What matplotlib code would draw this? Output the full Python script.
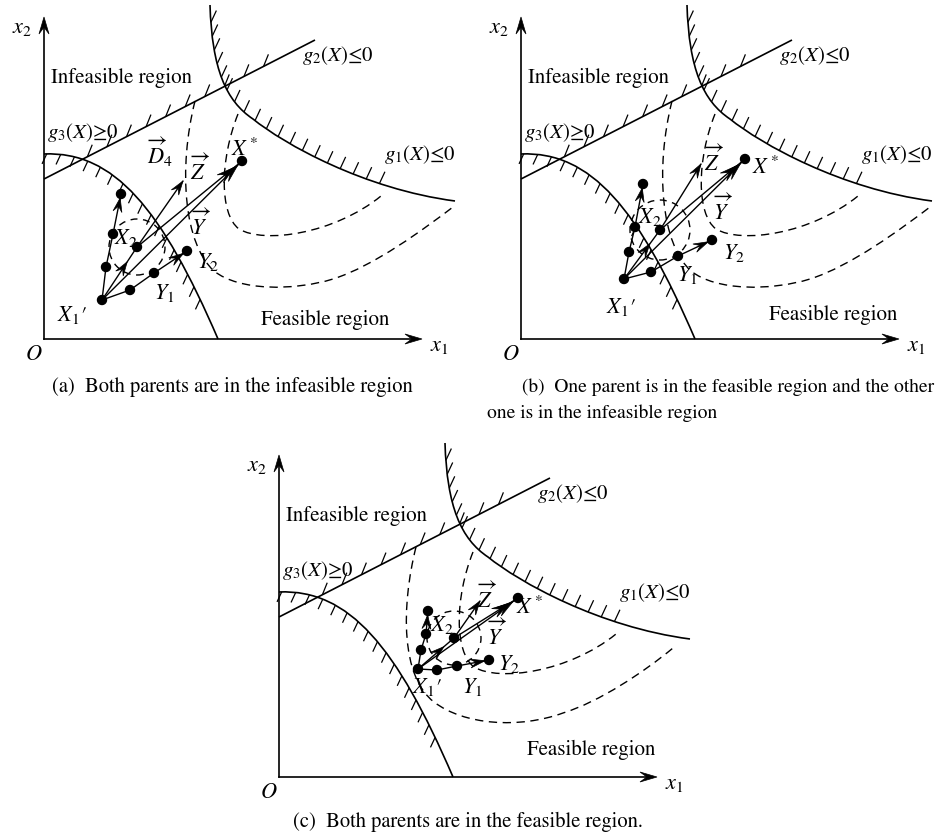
import numpy as np
import matplotlib.pyplot as plt
from matplotlib.path import Path
from matplotlib.patches import PathPatch, Polygon, Circle
from matplotlib.collections import LineCollection

plt.rcParams['font.family'] = ['STIXGeneral', 'DejaVu Serif']
plt.rcParams['mathtext.fontset'] = 'stix'

W, H = 938, 837
panels = ['a', 'b', 'c']

# pixel position of the origin O of each panel
origin = {'a': (44, 340), 'b': (521, 340), 'c': (279, 778)}
axis_len = (378, 322)

# constraint boundaries, panel units (1 unit = 1 px, O at 0,0), bezier control points
g2_line = [(0, 160), (271, 299)]
g3_curve = [(0, 185), (70, 188), (118, 130), (174, 0)]
g1_curve = [(166, 334), (168, 270), (182, 238), (209, 220),
            (240, 195), (320, 150), (411, 138)]
outer_level = [(151, 238), (134, 170), (140, 95), (170, 68),
               (195, 48), (250, 48), (289, 60),
               (330, 73), (380, 110), (409, 132)]
outer_level_c = [(137, 230), (122, 170), (122, 100), (155, 75),
                 (185, 52), (240, 48), (284, 64),
                 (320, 75), (365, 105), (394, 129)]
inner_level = [(194, 225), (176, 180), (175, 125), (195, 110),
               (220, 95), (290, 105), (337, 143)]

# individuals in each panel
x1p = {'a': (58, 39), 'b': (103, 60), 'c': (139, 108)}
x2 = {'a': (93, 92), 'b': (139, 109), 'c': (175, 139)}
x_star = {'a': (198, 178), 'b': (224, 180), 'c': (239, 179)}
left_chain = {'a': [(62, 72), (69, 105), (77, 145)],
              'b': [(108, 87), (114, 112), (122, 155)],
              'c': [(142, 127), (147, 143), (149, 166)]}
bottom_chain = {'a': [(86, 49), (110, 66), (143, 88)],
                'b': [(130, 67), (157, 83), (191, 99)],
                'c': [(158, 107), (178, 111), (210, 117)]}
z_tip = {'a': (139, 158), 'b': (180, 175), 'c': (201, 176)}
ring = {'a': 28, 'b': 30, 'c': 27}

captions = {
    'a': ["(a)  Both parents are in the infeasible region"],
    'b': ["(b)  One parent is in the feasible region and the other",
          "one is in the infeasible region"],
    'c': ["(c)  Both parents are in the feasible region."],
}

# label placement (panel units)
labels = {
    'a': {'xs': (201, 190), 'z': (156, 170), 'y': (157, 115), 'y2': (164, 78),
          'y1': (120, 47), 'x2': (82, 102), 'x1': (28, 25), 'feas': (217, 20),
          'd4': (116, 188)},
    'b': {'xs': (245, 172), 'z': (193, 179), 'y': (202, 130), 'y2': (213, 87),
          'y1': (166, 65), 'x2': (129, 123), 'x1': (100, 33), 'feas': (248, 25)},
    'c': {'xs': (251, 170), 'z': (208, 180), 'y': (218, 143), 'y2': (230, 114),
          'y1': (193, 91), 'x2': (163, 153), 'x1': (148, 91), 'feas': (248, 28)},
}


def curve_path(pts):
    codes = [Path.MOVETO] + [Path.CURVE4] * (len(pts) - 1)
    return Path(pts, codes)


def sample(path):
    t = np.linspace(0, 1, 80)
    return np.vstack([bz(t) for bz, _ in path.iter_bezier()])


def hatch(ax, path, step, length, angle, lo, hi):
    pts = sample(path)
    d = np.r_[0, np.cumsum(np.hypot(*np.diff(pts, axis=0).T))]
    marks = np.arange(lo * d[-1], hi * d[-1], step)
    xs = np.interp(marks, d, pts[:, 0])
    ys = np.interp(marks, d, pts[:, 1])
    dx = length * np.cos(np.radians(angle))
    dy = length * np.sin(np.radians(angle))
    segs = [[(x, y), (x + dx, y + dy)] for x, y in zip(xs, ys)]
    ax.add_collection(LineCollection(segs, colors='k', linewidths=0.9))


def head(ax, tip, frm, size=12, width=8, back=0):
    tip = np.array(tip, float)
    d = tip - np.array(frm, float)
    d /= np.hypot(*d)
    tip = tip - d * back
    n = np.array([-d[1], d[0]])
    rear = tip - d * size
    notch = tip - d * size * 0.6
    poly = [tip, rear + n * width / 2, notch, rear - n * width / 2]
    ax.add_patch(Polygon(poly, closed=True, facecolor='k', edgecolor='k', lw=0.5))


def seg(ax, p, q, lw=1.0):
    ax.plot([p[0], q[0]], [p[1], q[1]], color='k', lw=lw, solid_capstyle='round')


fig = plt.figure(figsize=(W / 100, H / 100), dpi=100)
x0, x1, y0, y1 = -44, 420, -42, 342
fs = 16

for key in panels:
    ox, oy = origin[key]
    ax = fig.add_axes([(ox + x0) / W, (H - oy + y0) / H, (x1 - x0) / W, (y1 - y0) / H])
    ax.set_xlim(x0, x1)
    ax.set_ylim(y0, y1)
    ax.axis('off')

    # axes with arrows
    ax.plot([0, axis_len[0] - 6], [0, 0], color='k', lw=1.2)
    ax.plot([0, 0], [0, axis_len[1] - 6], color='k', lw=1.2)
    head(ax, (axis_len[0], 0), (0, 0), size=17, width=10)
    head(ax, (0, axis_len[1]), (0, 0), size=17, width=10)
    ax.text(-22, 312, r'$x_2$', fontsize=fs, ha='center', va='center')
    ax.text(395, -6, r'$x_1$', fontsize=fs, ha='center', va='center')
    ax.text(-10, -15, r'$O$', fontsize=fs, ha='center', va='center')

    # boundaries
    p2 = Path(g2_line, [Path.MOVETO, Path.LINETO])
    p3 = curve_path(g3_curve)
    p1 = curve_path(g1_curve)
    for p in (p1, p2, p3):
        ax.add_patch(PathPatch(p, fill=False, lw=1.2, color='k'))
    hatch(ax, p2, 22, 13, 68, 0.16, 0.82)
    hatch(ax, p3, 14, 11, 245, 0.01, 0.88)
    hatch(ax, p1, 14, 13, 65, 0.05, 0.80)

    # level contours
    outer = outer_level_c if key == 'c' else outer_level
    for lvl in (outer, inner_level):
        ax.add_patch(PathPatch(curve_path(lvl), fill=False, lw=1.0, color='k',
                               linestyle=(0, (6, 4))))

    ax.text(7, 262, 'Infeasible region', fontsize=15, ha='left', va='center')
    fx, fy = labels[key]['feas']
    ax.text(fx, fy, 'Feasible region', fontsize=15, ha='left', va='center')
    ax.text(258, 284, r'$g_2(X)$≤0', fontsize=15, ha='left', va='center')
    ax.text(3, 207, r'$g_3(X)$≥0', fontsize=15, ha='left', va='center')
    ax.text(340, 185, r'$g_1(X)$≤0', fontsize=15, ha='left', va='center')

    # individuals and search directions
    a, b, s = x1p[key], x2[key], x_star[key]
    lc, bc, zt = left_chain[key], bottom_chain[key], z_tip[key]
    ax.add_patch(Circle(b, ring[key], fill=False, lw=1.0, color='k',
                        linestyle=(0, (5, 4))))
    chain = [a] + lc
    for p, q in zip(chain[:-1], chain[1:]):
        seg(ax, p, q)
    head(ax, lc[-1], lc[-2], size=14, width=9, back=4)
    chain = [a] + bc
    for p, q in zip(chain[:-1], chain[1:]):
        seg(ax, p, q)
    head(ax, bc[-1], bc[-2], size=15, width=9, back=4)
    seg(ax, a, b)
    mid = (a[0] + 0.72 * (b[0] - a[0]), a[1] + 0.72 * (b[1] - a[1]))
    head(ax, mid, a, size=14, width=9)
    seg(ax, b, zt)
    head(ax, zt, b, size=14, width=9)
    seg(ax, a, s)
    seg(ax, b, s)
    head(ax, s, a, size=18, width=10, back=6)
    head(ax, s, b, size=18, width=10, back=10)
    for p in [a, b, s] + lc + bc:
        ax.add_patch(Circle(p, 4.5, color='k'))

    lab = labels[key]
    ax.text(*lab['xs'], r'$X^*$', fontsize=fs, ha='center', va='center')
    ax.text(*lab['z'], r'$\overrightarrow{Z}$', fontsize=fs, ha='center', va='center')
    ax.text(*lab['y'], r'$\overrightarrow{Y}$', fontsize=fs, ha='center', va='center')
    ax.text(*lab['y2'], r'$Y_2$', fontsize=fs, ha='center', va='center')
    ax.text(*lab['y1'], r'$Y_1$', fontsize=fs, ha='center', va='center')
    ax.text(*lab['x2'], r'$X_2$', fontsize=fs, ha='center', va='center')
    ax.text(*lab['x1'], r"$X_1$′", fontsize=fs, ha='center', va='center')
    if 'd4' in lab:
        ax.text(*lab['d4'], r'$\overrightarrow{D}_4$', fontsize=fs, ha='center', va='center')

cfs = 14.8
fig.text(52 / W, 1 - 387 / H, captions['a'][0], fontsize=cfs, ha='left', va='center')
fig.text(934 / W, 1 - 387 / H, captions['b'][0], fontsize=14, ha='right', va='center')
fig.text(487 / W, 1 - 413 / H, captions['b'][1], fontsize=14, ha='left', va='center')
fig.text(293 / W, 1 - 822 / H, captions['c'][0], fontsize=cfs, ha='left', va='center')

fig.savefig('out.png', dpi=100)
